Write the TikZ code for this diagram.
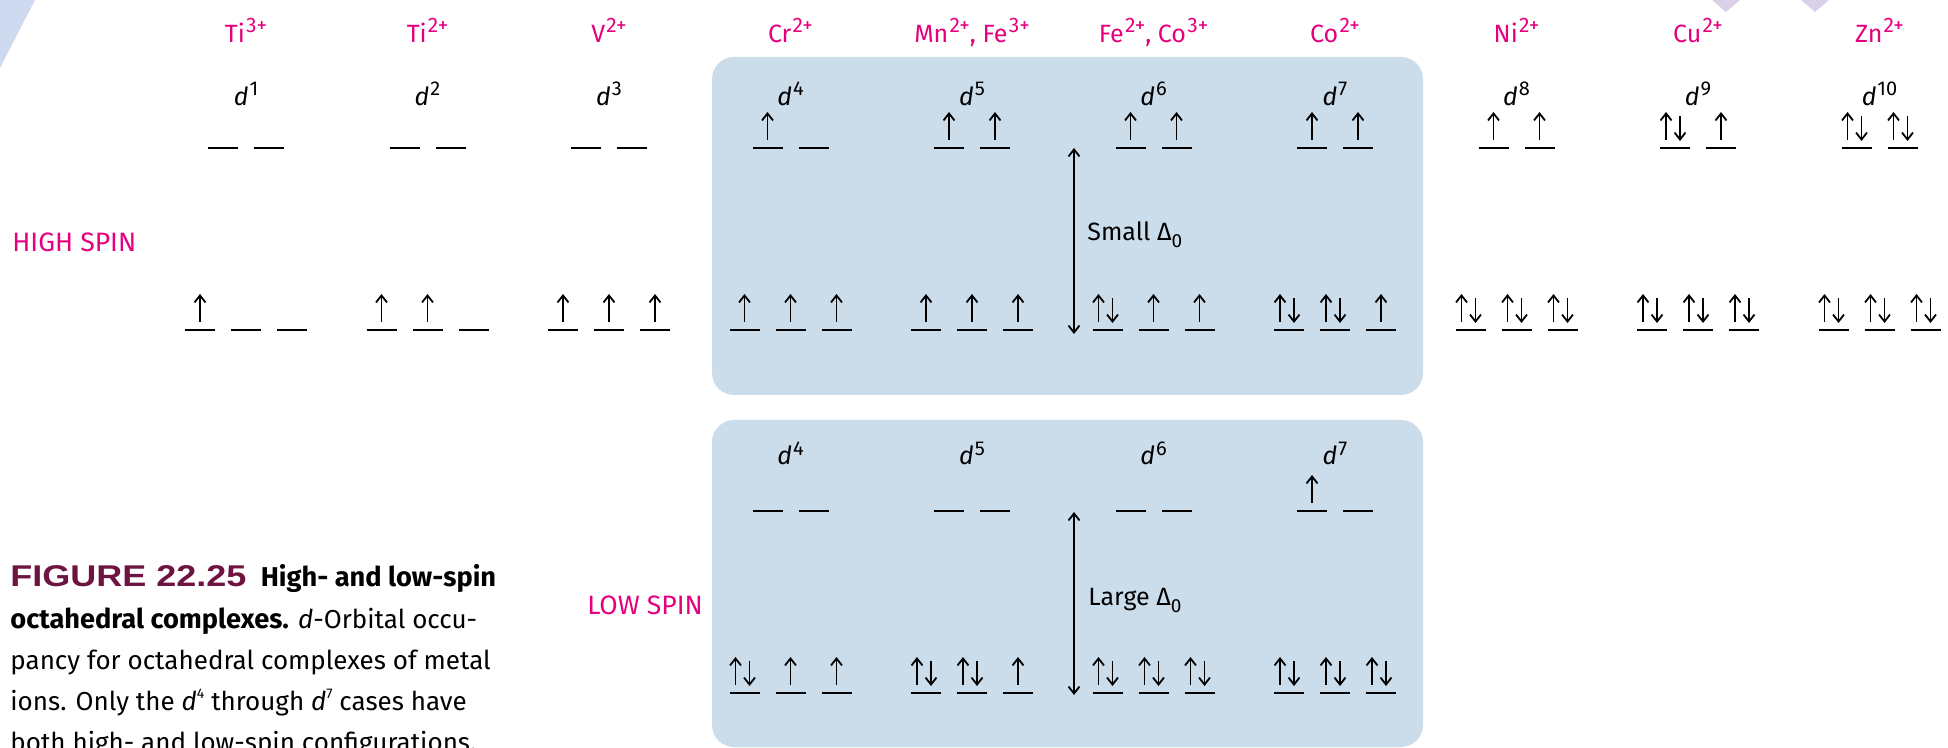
\documentclass[tikz,border=0pt]{standalone}
\usepackage{fontspec}
\setmainfont{Fira Sans}
\newfontfamily\capfont[FakeStretch=1.2]{Liberation Sans}
\usetikzlibrary{arrows.meta}
\definecolor{boxblue}{RGB}{203,220,235}
\definecolor{ionpink}{RGB}{230,0,126}
\definecolor{figmaroon}{RGB}{110,20,65}
\definecolor{decoblue}{RGB}{205,218,240}
\definecolor{decolav}{RGB}{218,208,232}

\newcommand\chg[1]{\kern0.6pt\raisebox{0.42em}{\fontsize{10.5}{12}\selectfont #1}}
\newcommand\dlab[1]{\textit{d}\kern0.5pt\raisebox{0.4em}{\fontsize{10}{12}\selectfont #1}}
\newcommand\orbline[3]{%
  \draw[orb] ({#1-15},{#2}) -- ({#1+15},{#2});
  \ifnum#3=1 \draw[el] ({#1},{#2-8}) -- ({#1},{#2-36});\fi
  \ifnum#3=2 \draw[el] ({#1-9},{#2-8}) -- ({#1-9},{#2-36});
             \draw[el] ({#1+5},{#2-32}) -- ({#1+5},{#2-7});\fi
}
\newcommand\egs[4]{\orbline{#1-23}{#2}{#3}\orbline{#1+23}{#2}{#4}}
\newcommand\tgs[5]{\orbline{#1-46}{#2}{#3}\orbline{#1}{#2}{#4}\orbline{#1+46}{#2}{#5}}

\tikzset{
  orb/.style={line width=1.3pt, line cap=butt},
  el/.style={line width=0.9pt, -{Straight Barb[length=3.5pt,width=5.5pt]}},
  delta/.style={line width=0.9pt, {Straight Barb[length=3.5pt,width=5.5pt]}-{Straight Barb[length=3.5pt,width=5.5pt]}},
  ion/.style={text=ionpink, font=\fontsize{12.5}{14}\selectfont, anchor=base, inner sep=0pt},
  dn/.style={font=\fontsize{12.5}{14}\selectfont, anchor=base, inner sep=0pt},
  spin/.style={text=ionpink, font=\fontsize{13.3}{15}\selectfont, anchor=mid west, inner sep=0pt},
  dlt/.style={font=\fontsize{12.5}{14}\selectfont, anchor=mid west, inner sep=0pt},
  capline/.style={font=\fontsize{13}{15}\selectfont, anchor=base west, inner sep=0pt},
  capbold/.style={font=\fontsize{13.6}{15}\selectfont\bfseries},
  panel/.style={fill=boxblue, rounded corners=11pt}
}
\newcommand\capb[1]{{\fontsize{13.6}{15}\selectfont\bfseries #1}}

\begin{document}
\begin{tikzpicture}[x=0.5pt,y=-0.5pt]
\useasboundingbox (0,0) rectangle (1948,748);
% decorations
\fill[decoblue] (0,0) -- (35,0) -- (0,68) -- cycle;
\fill[decolav] (1712,0) -- (1740,0) -- (1726,12) -- cycle;
\fill[decolav] (1801,0) -- (1829,0) -- (1815,12) -- cycle;
% panels
\fill[panel] (712,57) rectangle (1423,395);
\fill[panel] (712,420) rectangle (1423,747);

% ion labels
\node[ion] (ion0) at (246,43) {Ti\chg{3+}};
\node[ion] (ion1) at (427.5,43) {Ti\chg{2+}};
\node[ion] (ion2) at (609,43) {V\chg{2+}};
\node[ion] (ion3) at (790.5,43) {Cr\chg{2+}};
\node[ion] (ion4) at (972,43) {Mn\chg{2+}, Fe\chg{3+}};
\node[ion] (ion5) at (1153.5,43) {Fe\chg{2+}, Co\chg{3+}};
\node[ion] (ion6) at (1335,43) {Co\chg{2+}};
\node[ion] (ion7) at (1516.5,43) {Ni\chg{2+}};
\node[ion] (ion8) at (1698,43) {Cu\chg{2+}};
\node[ion] (ion9) at (1879.5,43) {Zn\chg{2+}};

% high-spin d labels
\node[dn] (hd0) at (246,106) {\dlab{1}};
\node[dn] (hd1) at (427.5,106) {\dlab{2}};
\node[dn] (hd2) at (609,106) {\dlab{3}};
\node[dn] (hd3) at (790.5,106) {\dlab{4}};
\node[dn] (hd4) at (972,106) {\dlab{5}};
\node[dn] (hd5) at (1153.5,106) {\dlab{6}};
\node[dn] (hd6) at (1335,106) {\dlab{7}};
\node[dn] (hd7) at (1516.5,106) {\dlab{8}};
\node[dn] (hd8) at (1698,106) {\dlab{9}};
\node[dn] (hd9) at (1879.5,106) {\dlab{10}};

% high-spin configurations
\egs{246}{148}{0}{0}     \tgs{246}{330}{1}{0}{0}
\egs{427.5}{148}{0}{0}   \tgs{427.5}{330}{1}{1}{0}
\egs{609}{148}{0}{0}     \tgs{609}{330}{1}{1}{1}
\egs{790.5}{148}{1}{0}   \tgs{790.5}{330}{1}{1}{1}
\egs{972}{148}{1}{1}     \tgs{972}{330}{1}{1}{1}
\egs{1153.5}{148}{1}{1}  \tgs{1153.5}{330}{2}{1}{1}
\egs{1335}{148}{1}{1}    \tgs{1335}{330}{2}{2}{1}
\egs{1516.5}{148}{1}{1}  \tgs{1516.5}{330}{2}{2}{2}
\egs{1698}{148}{2}{1}    \tgs{1698}{330}{2}{2}{2}
\egs{1879.5}{148}{2}{2}  \tgs{1879.5}{330}{2}{2}{2}

% low-spin d labels
\node[dn] (ld3) at (790.5,465) {\dlab{4}};
\node[dn] (ld4) at (972,465) {\dlab{5}};
\node[dn] (ld5) at (1153.5,465) {\dlab{6}};
\node[dn] (ld6) at (1335,465) {\dlab{7}};

% low-spin configurations
\egs{790.5}{511}{0}{0}   \tgs{790.5}{693}{2}{1}{1}
\egs{972}{511}{0}{0}     \tgs{972}{693}{2}{2}{1}
\egs{1153.5}{511}{0}{0}  \tgs{1153.5}{693}{2}{2}{2}
\egs{1335}{511}{1}{0}    \tgs{1335}{693}{2}{2}{2}

% splitting arrows
\coordinate (st) at (1074,148);
\coordinate (sb) at (1074,334);
\coordinate (lt) at (1074,512);
\coordinate (lb) at (1074,695);
\draw[delta] (st) -- (sb);
\draw[delta] (lt) -- (lb);
\node[dlt] (small) at (1087,235) {Small Δ\raisebox{-0.3em}{\fontsize{9.5}{10}\selectfont 0}};
\node[dlt] (large) at (1088,600) {Large Δ\raisebox{-0.3em}{\fontsize{9.5}{10}\selectfont 0}};

% spin labels
\node[spin] (hs) at (12,246) {HIGH SPIN};
\node[spin] (ls) at (587,609) {LOW SPIN};

% caption
\node[capline] (cap1) at (10,586) {{\capfont\bfseries\color{figmaroon}\fontsize{15}{17}\selectfont FIGURE 22.25}\hspace{0.55em}\capb{High- and low-spin}};
\node[capline] (cap2) at (10,628) {\capb{octahedral complexes.} \textit{d}-Orbital occu-};
\node[capline] (cap3) at (10,669) {pancy for octahedral complexes of metal};
\node[capline] (cap4) at (10,710) {ions. Only the \textit{d}\raisebox{0.45em}{\fontsize{7}{8}\selectfont 4} through \textit{d}\raisebox{0.45em}{\fontsize{7}{8}\selectfont 7} cases have};
\node[capline] (cap5) at (10,751) {both high- and low-spin configurations.};
\end{tikzpicture}
\end{document}
